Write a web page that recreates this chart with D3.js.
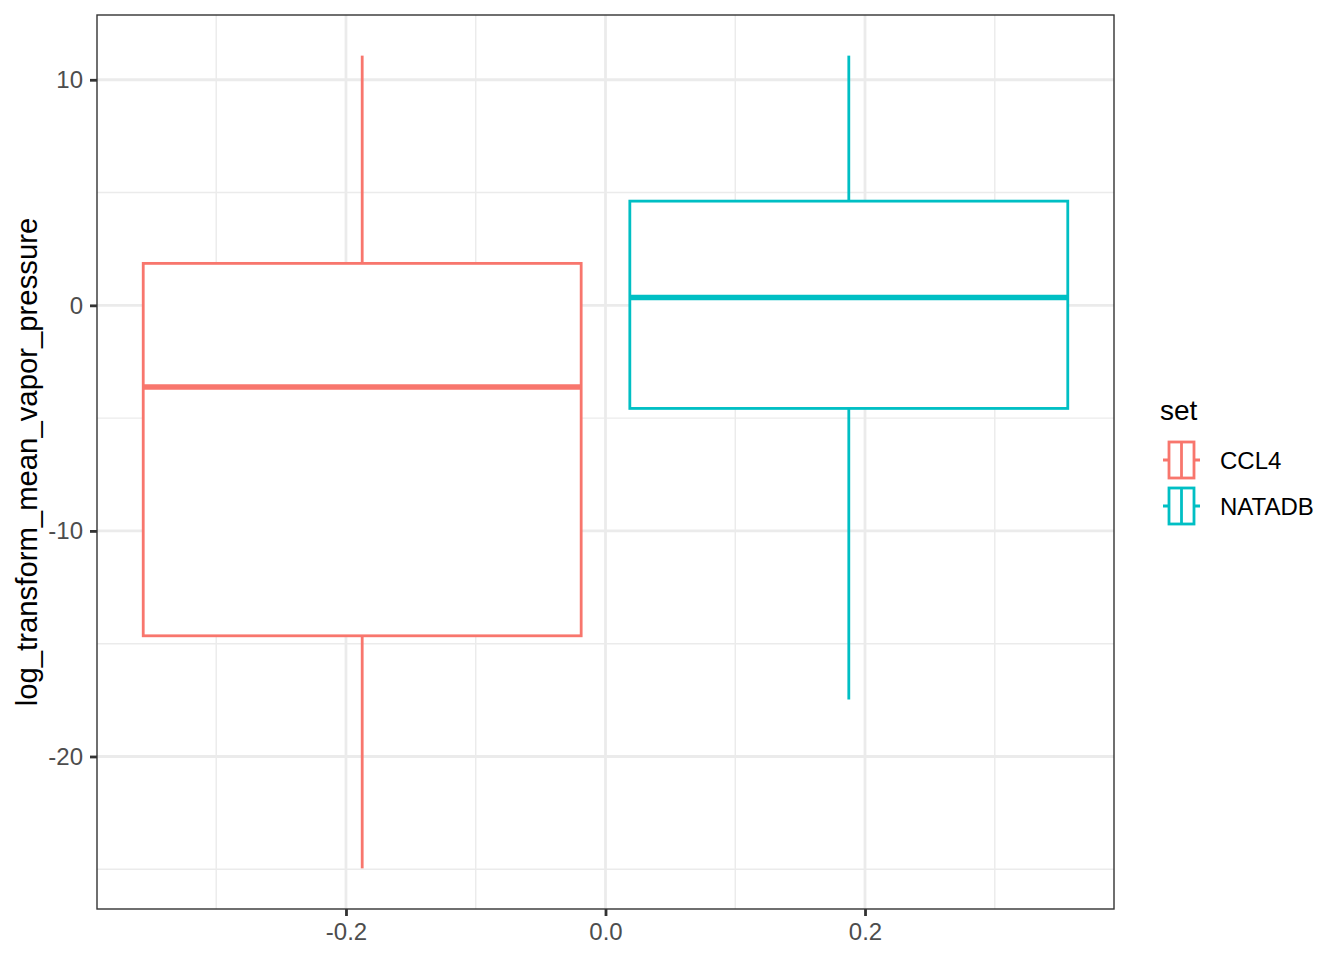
<!DOCTYPE html>
<html>
<head>
<meta charset="utf-8">
<script src="https://cdn.jsdelivr.net/npm/d3@7"></script>
<style>
  body { margin: 0; background: #ffffff; }
  #chart-container { width: 1344px; height: 960px; }
  text { font-family: "Liberation Sans", Arial, Helvetica, sans-serif; }
</style>
</head>
<body>
<div id="chart-container"></div>
<script>
// Data
const sets = ["CCL4", "NATADB"];
const setColors = ["#F8766D", "#00BFC4"];
const xCenters = [-0.1875, 0.1875];
const whiskerLow = [-24.96, -17.47];
const q1 = [-14.65, -4.57];
const median = [-3.62, 0.35];
const q3 = [1.86, 4.62];
const whiskerHigh = [11.07, 11.07];

const xMajor = [-0.2, 0.0, 0.2];
const xMinor = [-0.3, -0.1, 0.1, 0.3];
const yMajor = [-20, -10, 0, 10];
const yMinor = [-25, -15, -5, 5];

const boxWidth = 0.3375;

function drawChart() {
  d3.select("#chart-container").selectAll("*").remove();

  // panel sits at 97..1114 x 15..909
  const margin = { top: 15, right: 230, bottom: 51, left: 97 };
  const width = 1344 - margin.left - margin.right;
  const height = 960 - margin.top - margin.bottom;

  const svg = d3.select("#chart-container")
    .append("svg")
    .attr("width", 1344)
    .attr("height", 960);

  const g = svg.append("g")
    .attr("transform", `translate(${margin.left},${margin.top})`);

  // ggplot style 5% expansion on both scales
  const xLo = d3.min(xCenters) - boxWidth / 2, xHi = d3.max(xCenters) + boxWidth / 2;
  const xPad = (xHi - xLo) * 0.05;
  const x = d3.scaleLinear().domain([xLo - xPad, xHi + xPad]).range([0, width]);

  const yLo = d3.min(whiskerLow), yHi = d3.max(whiskerHigh);
  const yPad = (yHi - yLo) * 0.05;
  const y = d3.scaleLinear().domain([yLo - yPad, yHi + yPad]).range([height, 0]);

  // minor gridlines
  g.selectAll(".xMinor").data(xMinor).join("line")
    .attr("x1", d => x(d)).attr("x2", d => x(d))
    .attr("y1", 0).attr("y2", height)
    .attr("stroke", "#EBEBEB").attr("stroke-width", 1.4);
  g.selectAll(".yMinor").data(yMinor).join("line")
    .attr("x1", 0).attr("x2", width)
    .attr("y1", d => y(d)).attr("y2", d => y(d))
    .attr("stroke", "#EBEBEB").attr("stroke-width", 1.4);

  // major gridlines
  g.selectAll(".xMajor").data(xMajor).join("line")
    .attr("x1", d => x(d)).attr("x2", d => x(d))
    .attr("y1", 0).attr("y2", height)
    .attr("stroke", "#EBEBEB").attr("stroke-width", 2.8);
  g.selectAll(".yMajor").data(yMajor).join("line")
    .attr("x1", 0).attr("x2", width)
    .attr("y1", d => y(d)).attr("y2", d => y(d))
    .attr("stroke", "#EBEBEB").attr("stroke-width", 2.8);

  // boxes
  const idx = d3.range(sets.length);
  const boxes = g.selectAll(".box").data(idx).join("g").attr("class", "box");

  // whiskers
  boxes.append("line")
    .attr("x1", i => x(xCenters[i])).attr("x2", i => x(xCenters[i]))
    .attr("y1", i => y(q3[i])).attr("y2", i => y(whiskerHigh[i]))
    .attr("stroke", i => setColors[i]).attr("stroke-width", 2.8);
  boxes.append("line")
    .attr("x1", i => x(xCenters[i])).attr("x2", i => x(xCenters[i]))
    .attr("y1", i => y(q1[i])).attr("y2", i => y(whiskerLow[i]))
    .attr("stroke", i => setColors[i]).attr("stroke-width", 2.8);

  boxes.append("rect")
    .attr("x", i => x(xCenters[i] - boxWidth / 2))
    .attr("width", i => x(xCenters[i] + boxWidth / 2) - x(xCenters[i] - boxWidth / 2))
    .attr("y", i => y(q3[i]))
    .attr("height", i => y(q1[i]) - y(q3[i]))
    .attr("fill", "#ffffff")
    .attr("stroke", i => setColors[i]).attr("stroke-width", 2.8);

  // median (fattened)
  boxes.append("line")
    .attr("x1", i => x(xCenters[i] - boxWidth / 2)).attr("x2", i => x(xCenters[i] + boxWidth / 2))
    .attr("y1", i => y(median[i])).attr("y2", i => y(median[i]))
    .attr("stroke", i => setColors[i]).attr("stroke-width", 5.6);

  // panel border
  g.append("rect")
    .attr("x", 0).attr("y", 0)
    .attr("width", width).attr("height", height)
    .attr("fill", "none")
    .attr("stroke", "#333333").attr("stroke-width", 1.4);

  // x axis
  g.append("g")
    .attr("transform", `translate(0,${height})`)
    .call(d3.axisBottom(x)
      .tickValues(xMajor)
      .tickFormat(d => d.toFixed(1))
      .tickSize(7)
      .tickPadding(7))
    .call(ax => ax.select(".domain").remove())
    .call(ax => ax.selectAll(".tick line").attr("stroke", "#333333").attr("stroke-width", 2.8))
    .selectAll(".tick text")
    .attr("fill", "#4D4D4D")
    .style("font-size", "24px");

  // y axis
  g.append("g")
    .call(d3.axisLeft(y)
      .tickValues(yMajor)
      .tickFormat(d => String(d))
      .tickSize(7)
      .tickPadding(7))
    .call(ax => ax.select(".domain").remove())
    .call(ax => ax.selectAll(".tick line").attr("stroke", "#333333").attr("stroke-width", 2.8))
    .selectAll(".tick text")
    .attr("fill", "#4D4D4D")
    .style("font-size", "24px");

  // y title
  svg.append("text")
    .attr("transform", `translate(37,${margin.top + height / 2}) rotate(-90)`)
    .attr("text-anchor", "middle")
    .attr("fill", "#000000")
    .style("font-size", "29.3px")
    .text("log_transform_mean_vapor_pressure");

  // legend
  const legend = svg.append("g").attr("transform", "translate(1160,0)");
  legend.append("text")
    .attr("x", 0).attr("y", 420)
    .attr("fill", "#000000")
    .style("font-size", "28px")
    .text("set");

  const keyY = d3.scaleBand().domain(sets).range([437, 529]);
  const keys = legend.selectAll(".key").data(sets).join("g")
    .attr("transform", d => `translate(0,${keyY(d)})`);

  keys.append("line")
    .attr("x1", 3).attr("x2", 40)
    .attr("y1", keyY.bandwidth() / 2).attr("y2", keyY.bandwidth() / 2)
    .attr("stroke", (d, i) => setColors[i]).attr("stroke-width", 2.8);
  keys.append("rect")
    .attr("x", 9).attr("y", 5)
    .attr("width", 25).attr("height", keyY.bandwidth() - 10)
    .attr("fill", "#ffffff")
    .attr("stroke", (d, i) => setColors[i]).attr("stroke-width", 2.8);
  keys.append("line")
    .attr("x1", 21.5).attr("x2", 21.5)
    .attr("y1", 5).attr("y2", keyY.bandwidth() - 5)
    .attr("stroke", (d, i) => setColors[i]).attr("stroke-width", 2.8);
  keys.append("text")
    .attr("x", 60).attr("y", keyY.bandwidth() / 2)
    .attr("dy", "0.36em")
    .attr("fill", "#000000")
    .style("font-size", "24px")
    .text(d => d);
}

drawChart();
</script>
</body>
</html>
